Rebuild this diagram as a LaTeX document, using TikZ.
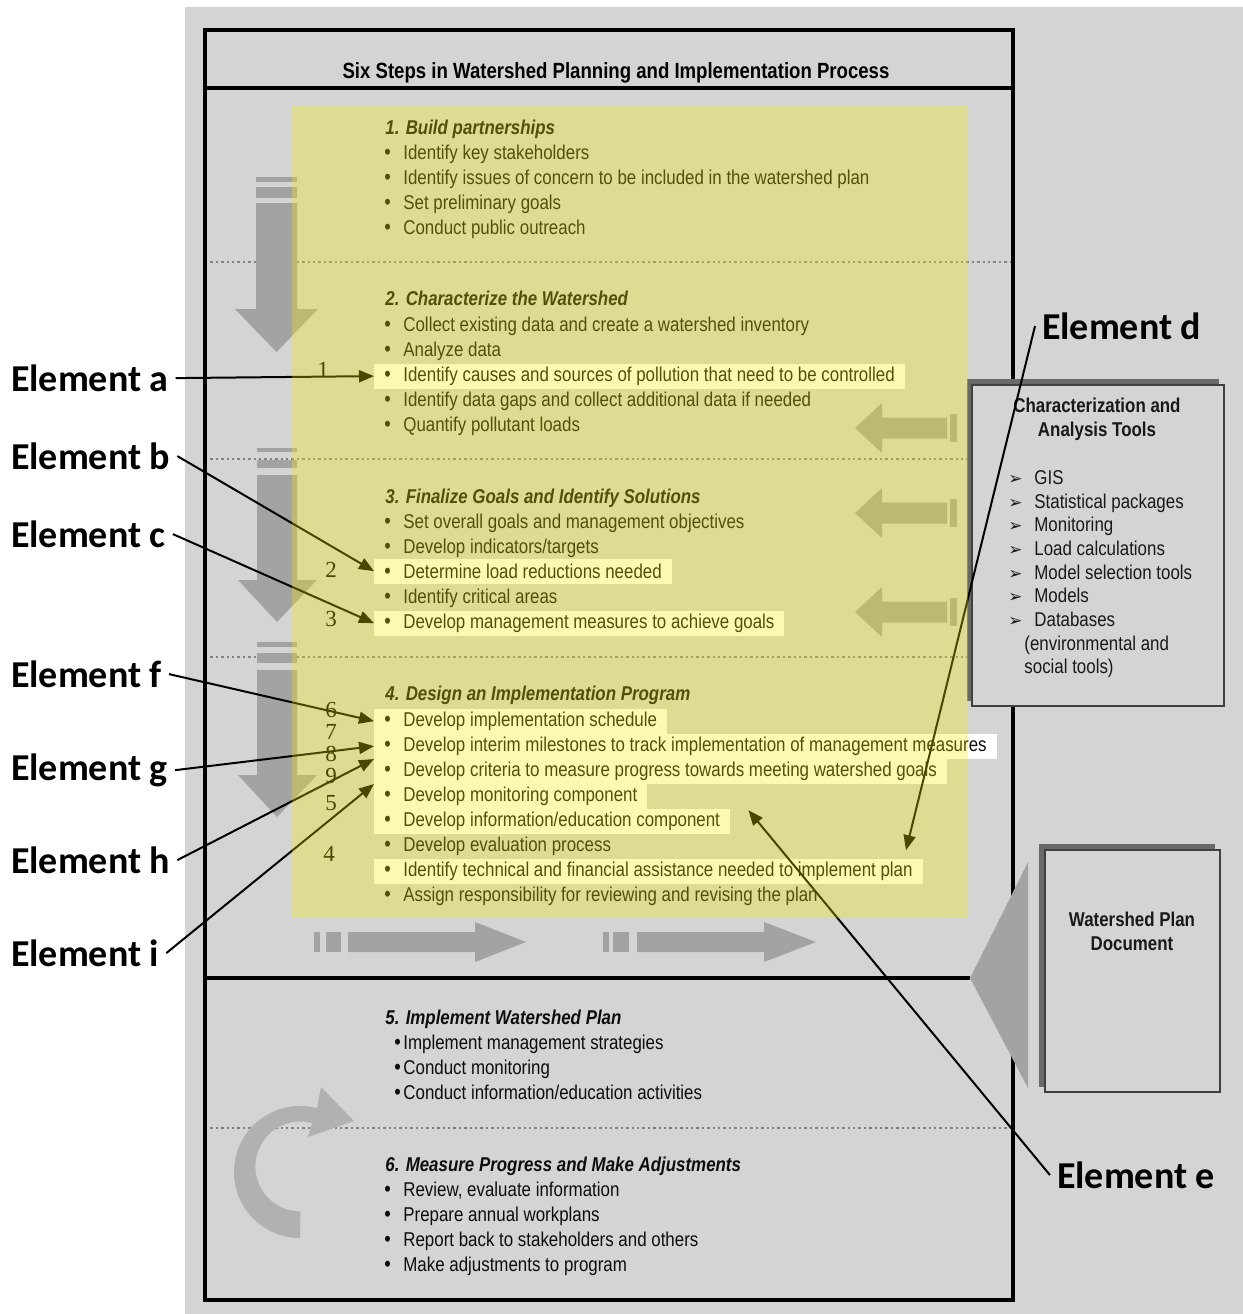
\documentclass[tikz,border=0pt]{standalone}
\usepackage{fontspec}
\setmainfont{Liberation Sans}[FakeStretch=0.845]
\newfontfamily\lblfont{Carlito}
\newfontfamily\numfont{Liberation Serif}
\newfontfamily\dingfont{DejaVu Sans}
\usetikzlibrary{arrows.meta}
\usetikzlibrary{calc}
\definecolor{bggray}{RGB}{212,212,212}
\definecolor{arrgray}{RGB}{163,163,163}
\definecolor{dotgray}{RGB}{130,130,130}
\definecolor{shadegray}{RGB}{105,105,105}
\definecolor{ylw}{RGB}{240,240,0}
\newcommand{\blt}{\makebox[9.5pt][l]{\fontsize{11}{11}\selectfont\textbullet}}
\newcommand{\arr}{\makebox[13pt][l]{\dingfont\fontsize{8.5}{8.5}\selectfont ➢}}

\begin{document}
\begin{tikzpicture}[x=0.5pt,y=-0.5pt,
    item/.style={anchor=mid west,yshift=-1pt,inner xsep=5pt,inner ysep=0pt,minimum height=12.5pt,text=black!95},
    hl/.style={item,fill=white},
    head/.style={anchor=mid west,yshift=-1pt,inner sep=0pt,font=\bfseries\itshape,text=black!95},
    lbl/.style={anchor=mid west,font=\lblfont\bfseries\fontsize{19}{22}\selectfont},
    num/.style={inner sep=0pt,text height=7.6pt,text depth=0pt,font=\numfont\fontsize{11.5}{11.5}\selectfont},
    tool/.style={anchor=mid west,yshift=-1pt,inner sep=0pt,text=black!90},
    conn/.style={line width=1pt,-{Triangle[length=7.5pt,width=6pt]}},
    frame/.style={line width=1.6pt},
    dots/.style={dotgray,line width=0.9pt,dash pattern=on 1.2pt off 1.5pt},
    box/.style={draw=black!75,line width=1.1pt,fill=bggray,inner sep=0pt}]
    \useasboundingbox (0,0) rectangle (1243,1314);
    \fill[white] (0,0) rectangle (1243,1314);
    \fill[bggray] (185,7) rectangle (1243,1314);

    \draw[dots] (205,262) -- (1013,262);
    \draw[dots] (205,459) -- (1013,459);
    \draw[dots] (205,657) -- (1013,657);
    \draw[dots] (205,1128) -- (1013,1128);

    \fill[arrgray] (256,177) rectangle (297,182);
    \fill[arrgray] (256,187) rectangle (297,198);
    \fill[arrgray] (256,203) -- (297,203) -- (297,309) -- (318,309) -- (276.5,352) -- (235,309) -- (256,309) -- cycle;
    \fill[arrgray] (257,448) rectangle (297,452);
    \fill[arrgray] (257,460) rectangle (297,468);
    \fill[arrgray] (257,475) -- (297,475) -- (297,580) -- (317,580) -- (277,622) -- (238,580) -- (257,580) -- cycle;
    \fill[arrgray] (257,642) rectangle (297,647);
    \fill[arrgray] (257,653) rectangle (297,663);
    \fill[arrgray] (257,670) -- (297,670) -- (297,775) -- (317,775) -- (277,817) -- (238,775) -- (257,775) -- cycle;

    \fill[arrgray] (314,932) rectangle (320,952);
    \fill[arrgray] (326,932) rectangle (341,952);
    \fill[arrgray] (348,932) -- (475,932) -- (475,922) -- (526,942) -- (475,962) -- (475,952) -- (348,952) -- cycle;
    \fill[arrgray] (603,932) rectangle (609,952);
    \fill[arrgray] (613,932) rectangle (629,952);
    \fill[arrgray] (637,932) -- (764,932) -- (764,922) -- (816,942) -- (764,962) -- (764,952) -- (637,952) -- cycle;

    \fill[arrgray] (855,428) -- (882,403) -- (882,417.5) -- (947,417.5) -- (947,438.5) -- (882,438.5) -- (882,453) -- cycle;
    \fill[arrgray] (950,414) rectangle (957,442);
    \fill[arrgray] (855,513) -- (882,488) -- (882,502.5) -- (947,502.5) -- (947,523.5) -- (882,523.5) -- (882,538) -- cycle;
    \fill[arrgray] (950,499) rectangle (957,527);
    \fill[arrgray] (855,612) -- (882,587) -- (882,601.5) -- (947,601.5) -- (947,622.5) -- (882,622.5) -- (882,637) -- cycle;
    \fill[arrgray] (950,598) rectangle (957,626);

    \fill[arrgray!85!white] (300,1238) arc[start angle=90,end angle=285,radius=66] -- (321,1087) -- (354,1121) -- (308,1137) -- (312,1123) arc[start angle=285,end angle=90,radius=45] -- cycle;

    \draw[frame] (205,30) rectangle (1013,1300);
    \draw[frame] (205,88) -- (1013,88);
    \draw[frame] (205,978) -- (970,978);
    \node[font=\bfseries\fontsize{11}{13}\selectfont] (title) at (616,73) {Six Steps in Watershed Planning and Implementation Process};

    \node[head] (h1) at (385,127) {1. Build partnerships};
    \node[item] (s1a) at (374,152) {\blt Identify key stakeholders};
    \node[item] (s1b) at (374,177) {\blt Identify issues of concern to be included in the watershed plan};
    \node[item] (s1c) at (374,202) {\blt Set preliminary goals};
    \node[item] (s1d) at (374,227) {\blt Conduct public outreach};

    \node[head] (h2) at (385,298) {2. Characterize the Watershed};
    \node[item] (s2a) at (374,324) {\blt Collect existing data and create a watershed inventory};
    \node[item] (s2b) at (374,349) {\blt Analyze data};
    \node[hl] (s2c) at (374,374) {\blt Identify causes and sources of pollution that need to be controlled};
    \node[item] (s2d) at (374,399) {\blt Identify data gaps and collect additional data if needed};
    \node[item] (s2e) at (374,424) {\blt Quantify pollutant loads};

    \node[head] (h3) at (385,496) {3. Finalize Goals and Identify Solutions};
    \node[item] (s3a) at (374,521) {\blt Set overall goals and management objectives};
    \node[item] (s3b) at (374,546) {\blt Develop indicators/targets};
    \node[hl] (s3c) at (374,571) {\blt Determine load reductions needed};
    \node[item] (s3d) at (374,596) {\blt Identify critical areas};
    \node[hl] (s3e) at (374,621) {\blt Develop management measures to achieve goals};

    \node[head] (h4) at (385,693) {4. Design an Implementation Program};
    \node[hl] (s4a) at (374,719) {\blt Develop implementation schedule};
    \node[hl] (s4b) at (374,744) {\blt Develop interim milestones to track implementation of management measures};
    \node[hl] (s4c) at (374,769) {\blt Develop criteria to measure progress towards meeting watershed goals};
    \node[hl] (s4d) at (374,794) {\blt Develop monitoring component};
    \node[hl] (s4e) at (374,819) {\blt Develop information/education component};
    \node[item] (s4f) at (374,844) {\blt Develop evaluation process};
    \node[hl] (s4g) at (374,869) {\blt Identify technical and financial assistance needed to implement plan};
    \node[item] (s4h) at (374,894) {\blt Assign responsibility for reviewing and revising the plan};

    \node[head] (h5) at (385,1017) {5. Implement Watershed Plan};
    \node[item] (s5a) at (384,1042) {\makebox[4.5pt][l]{\fontsize{11}{11}\selectfont\textbullet}Implement management strategies};
    \node[item] (s5b) at (384,1067) {\makebox[4.5pt][l]{\fontsize{11}{11}\selectfont\textbullet}Conduct monitoring};
    \node[item] (s5c) at (384,1092) {\makebox[4.5pt][l]{\fontsize{11}{11}\selectfont\textbullet}Conduct information/education activities};

    \node[head] (h6) at (385,1164) {6. Measure Progress and Make Adjustments};
    \node[item] (s6a) at (374,1189) {\blt Review, evaluate information};
    \node[item] (s6b) at (374,1214) {\blt Prepare annual workplans};
    \node[item] (s6c) at (374,1239) {\blt Report back to stakeholders and others};
    \node[item] (s6d) at (374,1264) {\blt Make adjustments to program};

    \node[num] (n1) at (323,370) {1};
    \node[num] (n2) at (331,570) {2};
    \node[num] (n3) at (331,619) {3};
    \node[num] (n6) at (331,710) {6};
    \node[num] (n7) at (331,732) {7};
    \node[num] (n8) at (331,754) {8};
    \node[num] (n9) at (331,776) {9};
    \node[num] (n5) at (331,803) {5};
    \node[num] (n4) at (329,854) {4};

    \fill[shadegray] (967,379) rectangle (1219,701);
    \node[box,minimum width=126pt,minimum height=160.5pt] (tools) at (1098,545.5) {};
    \node[align=center,font=\bfseries\fontsize{10}{12}\selectfont,text=black!90] (toolsttl) at (1097,419) {Characterization and\\Analysis Tools};
    \node[tool] (t1) at (1008,477) {\arr GIS};
    \node[tool] (t2) at (1008,501) {\arr Statistical packages};
    \node[tool] (t3) at (1008,524) {\arr Monitoring};
    \node[tool] (t4) at (1008,548) {\arr Load calculations};
    \node[tool] (t5) at (1008,572) {\arr Model selection tools};
    \node[tool] (t6) at (1008,595) {\arr Models};
    \node[tool] (t7) at (1008,619) {\arr Databases};
    \node[tool] (t8) at (1024,643) {(environmental and};
    \node[tool] (t9) at (1024,666) {social tools)};

    \fill[arrgray] (970,978) -- (1028,862) -- (1028,1088) -- cycle;
    \fill[shadegray] (1039,844) rectangle (1215,1087);
    \node[box,minimum width=87.5pt,minimum height=121pt] (doc) at (1132.5,971) {};
    \node[align=center,font=\bfseries\fontsize{10}{12}\selectfont,text=black!90] (doctxt) at (1132,931) {Watershed Plan\\Document};

    \node[lbl] (la) at (4,386) {Element a};
    \node[lbl] (lb) at (4,464) {Element b};
    \node[lbl] (lc) at (4,542) {Element c};
    \node[lbl] (lf) at (4,682) {Element f};
    \node[lbl] (lg) at (4,775) {Element g};
    \node[lbl] (lh) at (4,868) {Element h};
    \node[lbl] (li) at (4,961) {Element i};
    \node[lbl] (ld) at (1035,334) {Element d};
    \node[lbl] (le) at (1050,1183) {Element e};

    \draw[conn] (la.east) -- (s2c.west);
    \draw[conn] (lb.east) -- (s3c.west);
    \draw[conn] (lc.east) -- (s3e.west);
    \draw[conn] (lf.east) -- (s4a.west);
    \draw[conn] (lg.east) -- (s4b.west);
    \draw[conn] (lh.east) -- (s4b.south west);
    \draw[conn] (li.east) -- (s4c.south west);
    \draw[conn] (ld.west) -- ($(s4g.north east)+(-17,-8)$);
    \draw[conn] (le.west) -- ($(s4e.north east)+(18,2)$);

    \fill[ylw,opacity=0.3] (292,105) rectangle (968,918);
\end{tikzpicture}
\end{document}
